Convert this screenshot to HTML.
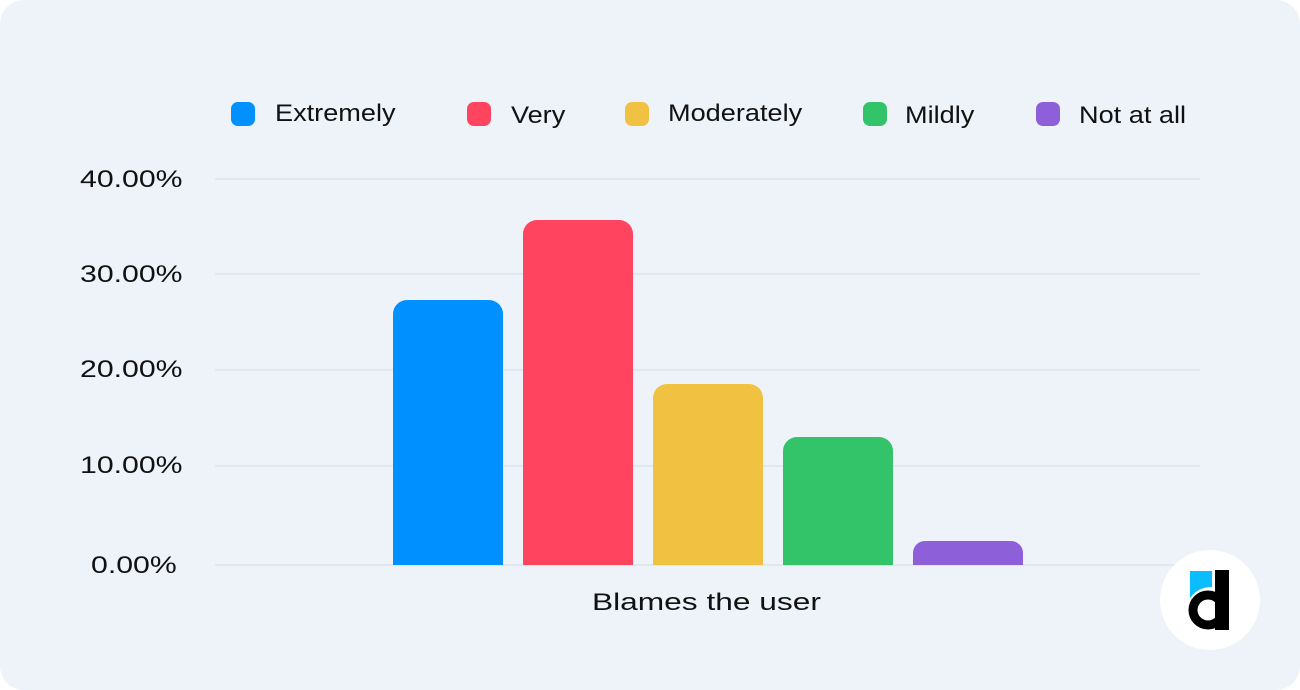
<!DOCTYPE html>
<html><head><style>
html,body{margin:0;padding:0;background:#fff;}
.c{position:absolute;left:0;top:0;width:1300px;height:690px;background:#eef3fa;border-radius:24px;overflow:hidden;font-family:"Liberation Sans",sans-serif;color:#111;}
.t{position:absolute;font-size:24px;line-height:1;white-space:nowrap;transform-origin:left top;}
.l{transform:scaleX(1.13);}
.y{transform:scaleX(1.26);}
.sw{position:absolute;width:24px;height:24px;border-radius:7px;top:102px;}
.g{position:absolute;left:215px;width:985px;height:2px;background:#dde8f3;}
.b{position:absolute;width:110px;border-radius:14px 14px 0 0;}
</style></head><body><div class="c">
<div class="sw" style="left:231px;background:#0090ff"></div><div class="t l" style="left:275px;top:102px">Extremely</div>
<div class="sw" style="left:467px;background:#ff445f"></div><div class="t l" style="left:511px;top:104px">Very</div>
<div class="sw" style="left:625px;background:#f1c242"></div><div class="t l" style="left:668px;top:102px">Moderately</div>
<div class="sw" style="left:863px;background:#33c46a"></div><div class="t l" style="left:905px;top:104px">Mildly</div>
<div class="sw" style="left:1036px;background:#8d60da"></div><div class="t l" style="left:1079px;top:104px">Not at all</div>

<div class="g" style="top:178px"></div><div class="t y" style="left:80px;top:168px">40.00%</div>
<div class="g" style="top:273px"></div><div class="t y" style="left:80px;top:263px">30.00%</div>
<div class="g" style="top:369px"></div><div class="t y" style="left:80px;top:358px">20.00%</div>
<div class="g" style="top:465px"></div><div class="t y" style="left:80px;top:454px">10.00%</div>
<div class="g" style="top:564px"></div><div class="t y" style="left:91px;top:554px">0.00%</div>

<div class="b" style="left:393px;top:300px;height:265px;background:#0090ff"></div>
<div class="b" style="left:523px;top:220px;height:345px;background:#ff445f"></div>
<div class="b" style="left:653px;top:384px;height:181px;background:#f1c242"></div>
<div class="b" style="left:783px;top:437px;height:128px;background:#33c46a"></div>
<div class="b" style="left:913px;top:541px;height:24px;background:#8d60da;border-radius:12px 12px 0 0"></div>

<div class="t" style="left:592px;top:591px;transform:scaleX(1.32)">Blames the user</div>

<div style="position:absolute;left:1160px;top:550px;width:100px;height:100px;border-radius:50%;background:#fff"></div>
<svg style="position:absolute;left:1160px;top:550px" width="100" height="100" viewBox="0 0 100 100">
<path d="M30 21 L52 21 L52 37 Q38 37 30 48 Z" fill="#0bbcff"/>
<rect x="55" y="20" width="14" height="60" fill="#000"/>
<circle cx="48" cy="60" r="15" fill="none" stroke="#000" stroke-width="9"/>
</svg>
</div></body></html>
